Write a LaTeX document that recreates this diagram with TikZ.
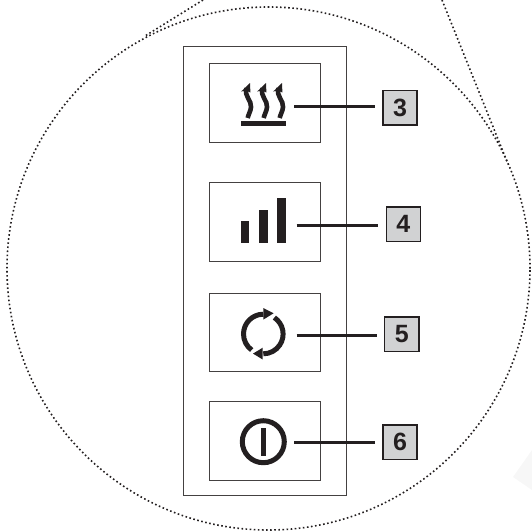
\documentclass[tikz,border=0pt]{standalone}
\usepackage{fontspec}
\setmainfont{Liberation Sans}
\definecolor{ink}{HTML}{231F20}
\definecolor{tagfill}{HTML}{D1D2D3}
\tikzset{
  panelbox/.style={draw=ink!85,line width=0.9pt,fill=none,inner sep=0pt,minimum width=111pt},
  tagbox/.style={draw=ink,line width=1.5pt,fill=tagfill,inner sep=0pt,minimum width=34.2pt,minimum height=34.2pt,font=\fontsize{25}{25}\selectfont\bfseries,text=ink},
  lead/.style={draw=ink,line width=2.6pt,shorten >=7.3pt},
  dotline/.style={draw=ink,line width=1.6pt,dash pattern=on 1.6pt off 2.5pt},
  icon/.style={draw=ink,line width=5pt},
  iconfill/.style={fill=ink,draw=none}
}
\begin{document}
\begin{tikzpicture}[x=1pt,y=-1pt]
\useasboundingbox (0,0) rectangle (532,531);
% faint smudge
\fill[black!3] (532,450) -- (513,477) -- (532,490) -- cycle;
% dotted magnifier outline
\coordinate (cc) at (268.5,268.5);
\draw[dotline] (cc) circle[radius=261.5pt];
\coordinate (la) at (203,0);
\coordinate (lb) at (145,36);
\coordinate (ra) at (442,0);
\coordinate (rb) at (508,164);
\draw[dotline] (la) -- (lb);
\draw[dotline] (ra) -- (rb);
% panel
\node[draw=ink!85,line width=0.9pt,inner sep=0pt,minimum width=163pt,minimum height=448.5pt] (panel) at (264.5,270.8) {};
\node[panelbox,minimum height=78.7pt] (b3) at (265,102.6) {};
\node[panelbox,minimum height=79pt] (b4) at (265,221.5) {};
\node[panelbox,minimum height=78.7pt] (b5) at (265,332.4) {};
\node[panelbox,minimum height=79pt] (b6) at (265,441.2) {};
% tags
\node[tagbox] (t3) at (400,107.8) {3};
\node[tagbox] (t4) at (403.4,224.2) {4};
\node[tagbox] (t5) at (401.7,334.2) {5};
\node[tagbox] (t6) at (400,442.2) {6};
% leads
\coordinate (s3) at (294.3,106.3);
\coordinate (s4) at (296.5,225.3);
\coordinate (s5) at (296.5,335.3);
\coordinate (s6) at (294.3,442.7);
\draw[lead] (s3) -- (t3.west |- s3);
\draw[lead] (s4) -- (t4.west |- s4);
\draw[lead] (s5) -- (t5.west |- s5);
\draw[lead] (s6) -- (t6.west |- s6);
% heat icon
\fill[ink] (240.7,121) rectangle (286,126.2);
\foreach \dx in {0,16,32}{
  \begin{scope}[xshift=\dx pt]
    \draw[ink,line width=4.6pt] (246.4,88) .. controls (244.2,97) and (251.6,100) .. (251,107) .. controls (250.7,111) and (248.6,114) .. (247.6,118);
    \fill[ink] (250,83) -- (241.2,91.5) -- (245.5,90.5) -- (250.4,92.5) -- cycle;
  \end{scope}
}
% bars icon
\fill[ink] (240.7,221) rectangle (249.3,243.3);
\fill[ink] (259,210) rectangle (267.7,243.3);
\fill[ink] (277.3,198.3) rectangle (286,243.3);
% cycle icon
\coordinate (cy) at (263.3,334);
\draw[icon] (cy) ++(90:19.8pt) arc[start angle=90,end angle=234,radius=19.8pt];
\draw[icon] (cy) ++(56:19.8pt) arc[start angle=56,end angle=-90,radius=19.8pt];
\fill[iconfill] (263.3,308) -- (263.3,319.6) -- (273.6,313.3) -- cycle;
\fill[iconfill] (262.7,347.7) -- (262.7,359.5) -- (253,353.6) -- cycle;
% power icon
\draw[icon] (263.3,441.7) circle[radius=21pt];
\draw[icon,line width=4.4pt] (263.3,428) -- (263.3,456);
\end{tikzpicture}
\end{document}
